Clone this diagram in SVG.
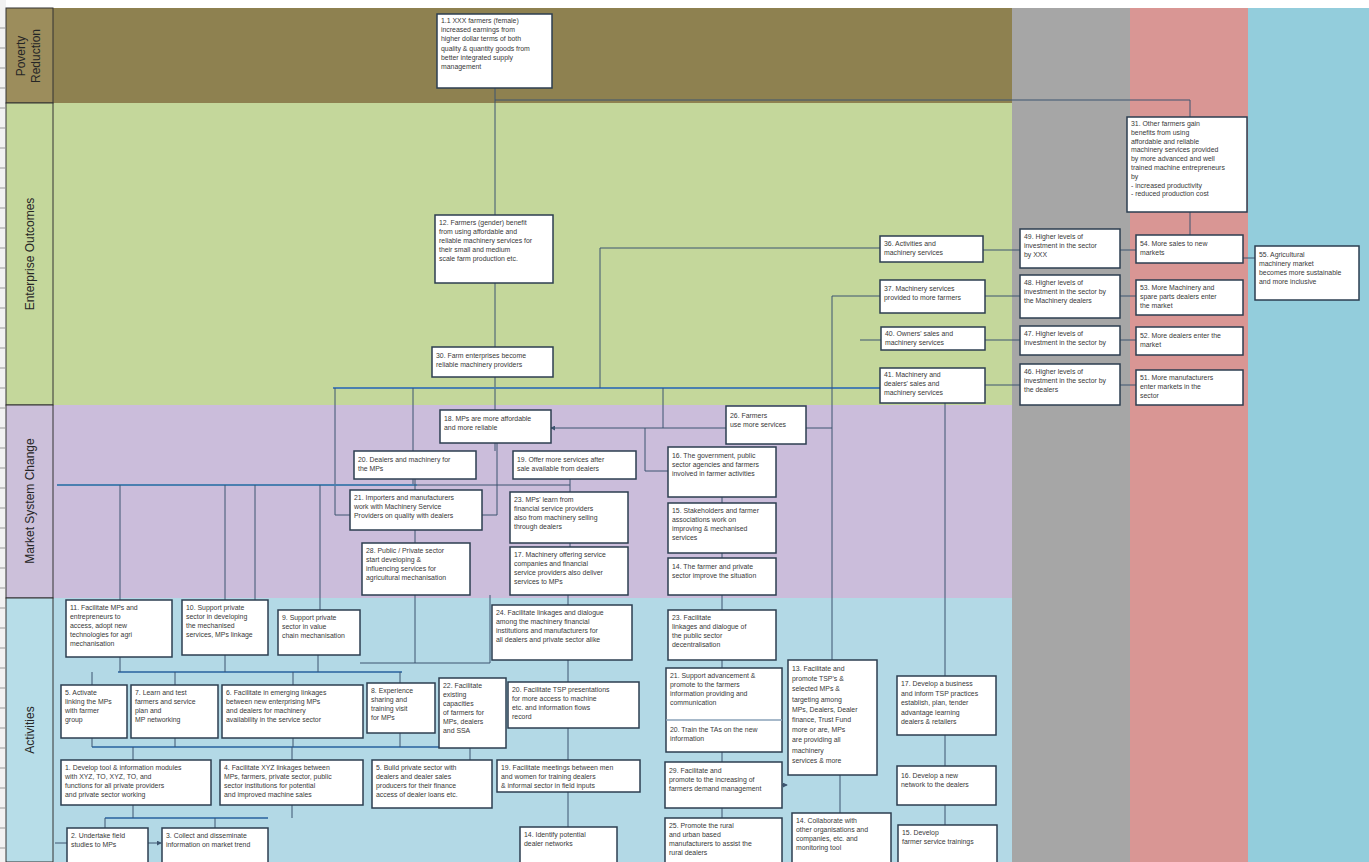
<svg xmlns="http://www.w3.org/2000/svg" width="1369" height="862" viewBox="0 0 1369 862">
<style>
.nb{fill:#ffffff;stroke:#2c3e50;stroke-width:1.5}
.t{font-family:"Liberation Sans",Arial,sans-serif;font-size:6.9px;fill:#383838}
.lab{font-family:"Liberation Sans",Arial,sans-serif;font-size:12px;fill:#262626;text-anchor:middle}
.c{fill:none;stroke:#3d5570;stroke-width:1}
.cb{fill:none;stroke:#4a7fb0;stroke-width:2}
.tick{stroke:#9a9a9a;stroke-width:1}
</style>
<defs>
<marker id="ah" viewBox="0 0 6 6" refX="5" refY="3" markerWidth="5" markerHeight="5" orient="auto"><path d="M0,0 L6,3 L0,6 z" fill="#3d5570"/></marker>
</defs>
<rect x="0" y="0" width="1369" height="862" fill="#ffffff"/>
<g id="bands">
<rect x="53" y="8" width="959" height="95" fill="#8e8150"/>
<rect x="53" y="103" width="959" height="302" fill="#c4d79b"/>
<rect x="53" y="405" width="959" height="193" fill="#cbbddb"/>
<rect x="53" y="598" width="959" height="264" fill="#b3d9e6"/>
<rect x="1012" y="8" width="118" height="854" fill="#a6a6a6"/>
<rect x="1130" y="8" width="118" height="854" fill="#d99694"/>
<rect x="1248" y="8" width="121" height="854" fill="#93cddc"/>
</g>
<g id="labels">
<rect x="0" y="0" width="6" height="862" fill="#f2f2f2"/>
<g class="tick">
<line x1="0" y1="28" x2="5" y2="28"/><line x1="0" y1="48" x2="5" y2="48"/><line x1="0" y1="68" x2="5" y2="68"/><line x1="0" y1="88" x2="5" y2="88"/><line x1="0" y1="108" x2="5" y2="108"/><line x1="0" y1="128" x2="5" y2="128"/><line x1="0" y1="148" x2="5" y2="148"/><line x1="0" y1="168" x2="5" y2="168"/><line x1="0" y1="188" x2="5" y2="188"/><line x1="0" y1="208" x2="5" y2="208"/><line x1="0" y1="228" x2="5" y2="228"/><line x1="0" y1="248" x2="5" y2="248"/><line x1="0" y1="268" x2="5" y2="268"/><line x1="0" y1="288" x2="5" y2="288"/><line x1="0" y1="308" x2="5" y2="308"/><line x1="0" y1="328" x2="5" y2="328"/><line x1="0" y1="348" x2="5" y2="348"/><line x1="0" y1="368" x2="5" y2="368"/><line x1="0" y1="388" x2="5" y2="388"/><line x1="0" y1="408" x2="5" y2="408"/><line x1="0" y1="428" x2="5" y2="428"/><line x1="0" y1="448" x2="5" y2="448"/><line x1="0" y1="468" x2="5" y2="468"/><line x1="0" y1="488" x2="5" y2="488"/><line x1="0" y1="508" x2="5" y2="508"/><line x1="0" y1="528" x2="5" y2="528"/><line x1="0" y1="548" x2="5" y2="548"/><line x1="0" y1="568" x2="5" y2="568"/><line x1="0" y1="588" x2="5" y2="588"/><line x1="0" y1="608" x2="5" y2="608"/><line x1="0" y1="628" x2="5" y2="628"/><line x1="0" y1="648" x2="5" y2="648"/><line x1="0" y1="668" x2="5" y2="668"/><line x1="0" y1="688" x2="5" y2="688"/><line x1="0" y1="708" x2="5" y2="708"/><line x1="0" y1="728" x2="5" y2="728"/><line x1="0" y1="748" x2="5" y2="748"/><line x1="0" y1="768" x2="5" y2="768"/><line x1="0" y1="788" x2="5" y2="788"/><line x1="0" y1="808" x2="5" y2="808"/><line x1="0" y1="828" x2="5" y2="828"/><line x1="0" y1="848" x2="5" y2="848"/>
</g>
<rect x="6" y="8" width="47" height="95" fill="#9c8d5c" stroke="#333" stroke-width="1"/>
<rect x="6" y="103" width="47" height="302" fill="#c4d79b" stroke="#333" stroke-width="1"/>
<rect x="6" y="405" width="47" height="193" fill="#ccc0da" stroke="#333" stroke-width="1"/>
<rect x="6" y="598" width="47" height="264" fill="#b7dde8" stroke="#333" stroke-width="1"/>
<text class="lab" transform="translate(25,56) rotate(-90)">Poverty</text>
<text class="lab" transform="translate(40,56) rotate(-90)">Reduction</text>
<text class="lab" transform="translate(34,254) rotate(-90)">Enterprise Outcomes</text>
<text class="lab" transform="translate(34,501) rotate(-90)">Market System Change</text>
<text class="lab" transform="translate(34,730) rotate(-90)">Activities</text>
</g>
<g id="connectors">
<path class="c" d="M495,88 V215"/>
<path class="c" d="M495,100 H1190 V117"/>
<path class="c" d="M1190,212 V235"/>
<path class="c" d="M495,283 V347"/>
<path class="c" d="M495,377 V410"/>
<path class="cb" d="M333,388 H880"/>
<path class="c" d="M335,388 V515 H350"/>
<path class="c" d="M600,248 H880"/>
<path class="c" d="M600,248 V388"/>
<path class="c" d="M832,296 H880"/>
<path class="c" d="M860,340 H881"/>
<path class="c" d="M832,296 V660"/>
<path class="c" d="M806,428 H832"/>
<path class="c" d="M983,250 H1020"/><path class="c" d="M985,296 H1020"/><path class="c" d="M985,340 H1020"/><path class="c" d="M985,385 H1020"/>
<path class="c" d="M1120,250 H1136"/><path class="c" d="M1120,296 H1136"/><path class="c" d="M1120,340 H1136"/><path class="c" d="M1120,385 H1136"/>
<path class="c" d="M1243,258 H1255"/>
<path class="c" d="M726,428 H551" marker-end="url(#ah)"/>
<path class="c" d="M663,388 V428"/>
<path class="c" d="M645,428 V471 H668"/>
<path class="c" d="M495,443 V451"/>
<path class="c" d="M413,388 V485"/>
<path class="c" d="M497,443 V515 H482"/>
<path class="cb" d="M57,485 H417"/>
<path class="c" d="M417,485 H570"/>
<path class="c" d="M415,479 V490"/>
<path class="c" d="M570,479 V492"/>
<path class="c" d="M120,485 V600"/><path class="c" d="M225,485 V600"/><path class="c" d="M255,485 V600"/><path class="c" d="M320,485 V610"/>
<path class="c" d="M415,530 V543"/><path class="c" d="M570,543 V547"/>
<path class="c" d="M722,497 V503"/><path class="c" d="M722,553 V558"/><path class="c" d="M722,595 V610"/>
<path class="c" d="M415,595 V663"/><path class="c" d="M490,595 V663"/><path class="c" d="M360,663 H490"/><path class="c" d="M568,595 V605"/>
<path class="c" d="M945,403 V676"/>
<path class="cb" d="M118,672 H402"/>
<path class="c" d="M120,657 V672"/><path class="c" d="M225,655 V672"/><path class="c" d="M318,655 V672"/>
<path class="c" d="M92,672 V685"/><path class="c" d="M175,672 V685"/><path class="c" d="M293,672 V685"/><path class="c" d="M400,672 V683"/>
<path class="cb" d="M92,747 H472"/>
<path class="c" d="M92,738 V747"/><path class="c" d="M175,738 V747"/><path class="c" d="M293,738 V747"/><path class="c" d="M400,733 V747"/><path class="c" d="M470,748 V760"/>
<path class="c" d="M133,747 V760"/><path class="c" d="M292,747 V760"/>
<path class="cb" d="M105,818 H268"/>
<path class="c" d="M133,805 V818"/><path class="c" d="M292,805 V818"/><path class="c" d="M105,818 V828"/><path class="c" d="M215,818 V828"/>
<path class="c" d="M148,843 H161" marker-end="url(#ah)"/>
<path class="c" d="M55,843 H67"/>
<path class="c" d="M568,660 V682"/><path class="c" d="M568,728 V760"/><path class="c" d="M568,792 V827"/>
<path class="c" d="M722,660 V668"/><path class="c" d="M722,752 V762"/><path class="c" d="M722,808 V818"/>
<path class="c" d="M782,785 H787" marker-end="url(#ah)"/>
<path class="c" d="M840,775 V813"/>
<path class="c" d="M945,735 V766"/><path class="c" d="M945,805 V825"/>
</g>
<g id="n_pr1"><rect class="nb" x="437" y="14" width="115" height="74"/><text class="t" x="441" y="23"><tspan x="441" dy="0">1.1 XXX farmers (female)</tspan><tspan x="441" dy="9.2">increased earnings from</tspan><tspan x="441" dy="9.2">higher dollar terms of both</tspan><tspan x="441" dy="9.2">quality &amp; quantity goods from</tspan><tspan x="441" dy="9.2">better integrated supply</tspan><tspan x="441" dy="9.2">management</tspan></text></g>
<g id="n_eo12"><rect class="nb" x="435" y="215" width="118" height="68"/><text class="t" x="439" y="225"><tspan x="439" dy="0">12. Farmers (gender) benefit</tspan><tspan x="439" dy="9">from using affordable and</tspan><tspan x="439" dy="9">reliable machinery services for</tspan><tspan x="439" dy="9">their small and medium</tspan><tspan x="439" dy="9">scale farm production etc.</tspan></text></g>
<g id="n_eo30"><rect class="nb" x="432" y="347" width="121" height="30"/><text class="t" x="436" y="358"><tspan x="436" dy="0">30. Farm enterprises become</tspan><tspan x="436" dy="9">reliable machinery providers</tspan></text></g>
<g id="n_eo31"><rect class="nb" x="1127" y="117" width="120" height="95"/><text class="t" x="1131" y="126"><tspan x="1131" dy="0">31. Other farmers gain</tspan><tspan x="1131" dy="8.8">benefits from using</tspan><tspan x="1131" dy="8.8">affordable and reliable</tspan><tspan x="1131" dy="8.8">machinery services provided</tspan><tspan x="1131" dy="8.8">by more advanced and well</tspan><tspan x="1131" dy="8.8">trained machine entrepreneurs</tspan><tspan x="1131" dy="8.8">by</tspan><tspan x="1131" dy="8.8">- increased productivity</tspan><tspan x="1131" dy="8.8">- reduced production cost</tspan></text></g>
<g id="n_eo36"><rect class="nb" x="880" y="236" width="103" height="26"/><text class="t" x="884" y="246"><tspan x="884" dy="0">36. Activities and</tspan><tspan x="884" dy="9">machinery services</tspan></text></g>
<g id="n_eo37"><rect class="nb" x="880" y="280" width="105" height="33"/><text class="t" x="884" y="291"><tspan x="884" dy="0">37. Machinery services</tspan><tspan x="884" dy="9">provided to more farmers</tspan></text></g>
<g id="n_eo40"><rect class="nb" x="881" y="327" width="104" height="23"/><text class="t" x="885" y="336"><tspan x="885" dy="0">40. Owners' sales and</tspan><tspan x="885" dy="9">machinery services</tspan></text></g>
<g id="n_eo41"><rect class="nb" x="880" y="368" width="105" height="35"/><text class="t" x="884" y="377"><tspan x="884" dy="0">41. Machinery and</tspan><tspan x="884" dy="9">dealers' sales and</tspan><tspan x="884" dy="9">machinery services</tspan></text></g>
<g id="n_g49"><rect class="nb" x="1020" y="229" width="100" height="39"/><text class="t" x="1024" y="239"><tspan x="1024" dy="0">49. Higher levels of</tspan><tspan x="1024" dy="9">investment in the sector</tspan><tspan x="1024" dy="9">by XXX</tspan></text></g>
<g id="n_g48"><rect class="nb" x="1020" y="275" width="100" height="43"/><text class="t" x="1024" y="285"><tspan x="1024" dy="0">48. Higher levels of</tspan><tspan x="1024" dy="9">investment in the sector by</tspan><tspan x="1024" dy="9">the Machinery dealers</tspan></text></g>
<g id="n_g47"><rect class="nb" x="1020" y="326" width="100" height="29"/><text class="t" x="1024" y="336"><tspan x="1024" dy="0">47. Higher levels of</tspan><tspan x="1024" dy="9">investment in the sector by</tspan></text></g>
<g id="n_g46"><rect class="nb" x="1020" y="364" width="100" height="41"/><text class="t" x="1024" y="374"><tspan x="1024" dy="0">46. Higher levels of</tspan><tspan x="1024" dy="9">investment in the sector by</tspan><tspan x="1024" dy="9">the dealers</tspan></text></g>
<g id="n_p54"><rect class="nb" x="1136" y="235" width="107" height="28"/><text class="t" x="1140" y="246"><tspan x="1140" dy="0">54. More sales to new</tspan><tspan x="1140" dy="9">markets</tspan></text></g>
<g id="n_p53"><rect class="nb" x="1136" y="280" width="107" height="35"/><text class="t" x="1140" y="290"><tspan x="1140" dy="0">53. More Machinery and</tspan><tspan x="1140" dy="9">spare parts dealers enter</tspan><tspan x="1140" dy="9">the market</tspan></text></g>
<g id="n_p52"><rect class="nb" x="1136" y="327" width="107" height="28"/><text class="t" x="1140" y="338"><tspan x="1140" dy="0">52. More dealers enter the</tspan><tspan x="1140" dy="9">market</tspan></text></g>
<g id="n_p51"><rect class="nb" x="1136" y="370" width="107" height="35"/><text class="t" x="1140" y="380"><tspan x="1140" dy="0">51. More manufacturers</tspan><tspan x="1140" dy="9">enter markets in the</tspan><tspan x="1140" dy="9">sector</tspan></text></g>
<g id="n_b55"><rect class="nb" x="1255" y="246" width="104" height="54"/><text class="t" x="1259" y="257"><tspan x="1259" dy="0">55. Agricultural</tspan><tspan x="1259" dy="9">machinery market</tspan><tspan x="1259" dy="9">becomes more sustainable</tspan><tspan x="1259" dy="9">and more inclusive</tspan></text></g>
<g id="n_m18"><rect class="nb" x="440" y="410" width="111" height="33"/><text class="t" x="444" y="421"><tspan x="444" dy="0">18. MPs are more affordable</tspan><tspan x="444" dy="9">and more reliable</tspan></text></g>
<g id="n_m20"><rect class="nb" x="354" y="451" width="122" height="28"/><text class="t" x="358" y="462"><tspan x="358" dy="0">20. Dealers and machinery for</tspan><tspan x="358" dy="9">the MPs</tspan></text></g>
<g id="n_m19"><rect class="nb" x="513" y="451" width="123" height="28"/><text class="t" x="517" y="462"><tspan x="517" dy="0">19. Offer more services after</tspan><tspan x="517" dy="9">sale available from dealers</tspan></text></g>
<g id="n_m21"><rect class="nb" x="350" y="490" width="132" height="40"/><text class="t" x="354" y="500"><tspan x="354" dy="0">21. Importers and manufacturers</tspan><tspan x="354" dy="9">work with Machinery Service</tspan><tspan x="354" dy="9">Providers on quality with dealers</tspan></text></g>
<g id="n_m23"><rect class="nb" x="510" y="492" width="118" height="51"/><text class="t" x="514" y="502"><tspan x="514" dy="0">23. MPs' learn from</tspan><tspan x="514" dy="9">financial service providers</tspan><tspan x="514" dy="9">also from machinery selling</tspan><tspan x="514" dy="9">through dealers</tspan></text></g>
<g id="n_m28"><rect class="nb" x="362" y="543" width="108" height="52"/><text class="t" x="366" y="553"><tspan x="366" dy="0">28. Public / Private sector</tspan><tspan x="366" dy="9">start developing &amp;</tspan><tspan x="366" dy="9">influencing services for</tspan><tspan x="366" dy="9">agricultural mechanisation</tspan></text></g>
<g id="n_m17"><rect class="nb" x="510" y="547" width="118" height="48"/><text class="t" x="514" y="557"><tspan x="514" dy="0">17. Machinery offering service</tspan><tspan x="514" dy="9">companies and financial</tspan><tspan x="514" dy="9">service providers also deliver</tspan><tspan x="514" dy="9">services to MPs</tspan></text></g>
<g id="n_m26"><rect class="nb" x="726" y="406" width="80" height="38"/><text class="t" x="730" y="418"><tspan x="730" dy="0">26. Farmers</tspan><tspan x="730" dy="9">use more services</tspan></text></g>
<g id="n_m16"><rect class="nb" x="668" y="447" width="108" height="50"/><text class="t" x="672" y="458"><tspan x="672" dy="0">16. The government, public</tspan><tspan x="672" dy="9">sector agencies and farmers</tspan><tspan x="672" dy="9">involved in farmer activities</tspan></text></g>
<g id="n_m15"><rect class="nb" x="668" y="503" width="108" height="50"/><text class="t" x="672" y="513"><tspan x="672" dy="0">15. Stakeholders and farmer</tspan><tspan x="672" dy="9">associations work on</tspan><tspan x="672" dy="9">improving &amp; mechanised</tspan><tspan x="672" dy="9">services</tspan></text></g>
<g id="n_m14"><rect class="nb" x="668" y="558" width="108" height="37"/><text class="t" x="672" y="569"><tspan x="672" dy="0">14. The farmer and private</tspan><tspan x="672" dy="9">sector improve the situation</tspan></text></g>
<g id="n_a11"><rect class="nb" x="66" y="600" width="106" height="57"/><text class="t" x="70" y="610"><tspan x="70" dy="0">11. Facilitate MPs and</tspan><tspan x="70" dy="9">entrepreneurs to</tspan><tspan x="70" dy="9">access, adopt new</tspan><tspan x="70" dy="9">technologies for agri</tspan><tspan x="70" dy="9">mechanisation</tspan></text></g>
<g id="n_a10"><rect class="nb" x="182" y="600" width="86" height="55"/><text class="t" x="186" y="610"><tspan x="186" dy="0">10. Support private</tspan><tspan x="186" dy="9">sector in developing</tspan><tspan x="186" dy="9">the mechanised</tspan><tspan x="186" dy="9">services, MPs linkage</tspan></text></g>
<g id="n_a9"><rect class="nb" x="278" y="610" width="82" height="45"/><text class="t" x="282" y="620"><tspan x="282" dy="0">9. Support private</tspan><tspan x="282" dy="9">sector in value</tspan><tspan x="282" dy="9">chain mechanisation</tspan></text></g>
<g id="n_a24"><rect class="nb" x="492" y="605" width="140" height="55"/><text class="t" x="496" y="615"><tspan x="496" dy="0">24. Facilitate linkages and dialogue</tspan><tspan x="496" dy="9">among the machinery financial</tspan><tspan x="496" dy="9">institutions and manufacturers for</tspan><tspan x="496" dy="9">all dealers and private sector alike</tspan></text></g>
<g id="n_a23"><rect class="nb" x="668" y="610" width="108" height="50"/><text class="t" x="672" y="620"><tspan x="672" dy="0">23. Facilitate</tspan><tspan x="672" dy="9">linkages and dialogue of</tspan><tspan x="672" dy="9">the public sector</tspan><tspan x="672" dy="9">decentralisation</tspan></text></g>
<g id="n_a5"><rect class="nb" x="61" y="685" width="66" height="53"/><text class="t" x="65" y="695"><tspan x="65" dy="0">5. Activate</tspan><tspan x="65" dy="9">linking the MPs</tspan><tspan x="65" dy="9">with farmer</tspan><tspan x="65" dy="9">group</tspan></text></g>
<g id="n_a7"><rect class="nb" x="131" y="685" width="87" height="53"/><text class="t" x="135" y="695"><tspan x="135" dy="0">7. Learn and test</tspan><tspan x="135" dy="9">farmers and service</tspan><tspan x="135" dy="9">plan and</tspan><tspan x="135" dy="9">MP networking</tspan></text></g>
<g id="n_a6"><rect class="nb" x="222" y="685" width="141" height="53"/><text class="t" x="226" y="695"><tspan x="226" dy="0">6. Facilitate in emerging linkages</tspan><tspan x="226" dy="9">between new enterprising MPs</tspan><tspan x="226" dy="9">and dealers for machinery</tspan><tspan x="226" dy="9">availability in the service sector</tspan></text></g>
<g id="n_a8"><rect class="nb" x="367" y="683" width="68" height="50"/><text class="t" x="371" y="693"><tspan x="371" dy="0">8. Experience</tspan><tspan x="371" dy="9">sharing and</tspan><tspan x="371" dy="9">training visit</tspan><tspan x="371" dy="9">for MPs</tspan></text></g>
<g id="n_a22"><rect class="nb" x="439" y="678" width="67" height="70"/><text class="t" x="443" y="688"><tspan x="443" dy="0">22. Facilitate</tspan><tspan x="443" dy="9">existing</tspan><tspan x="443" dy="9">capacities</tspan><tspan x="443" dy="9">of farmers for</tspan><tspan x="443" dy="9">MPs, dealers</tspan><tspan x="443" dy="9">and SSA</tspan></text></g>
<g id="n_a20"><rect class="nb" x="508" y="682" width="131" height="46"/><text class="t" x="512" y="692"><tspan x="512" dy="0">20. Facilitate TSP presentations</tspan><tspan x="512" dy="9">for more access to machine</tspan><tspan x="512" dy="9">etc. and information flows</tspan><tspan x="512" dy="9">record</tspan></text></g>
<g id="n_a21"><rect class="nb" x="666" y="668" width="116" height="84"/><text class="t" x="670" y="678"><tspan x="670" dy="0">21. Support advancement &amp;</tspan><tspan x="670" dy="9">promote to the farmers</tspan><tspan x="670" dy="9">information providing and</tspan><tspan x="670" dy="9">communication</tspan></text><line x1="666" y1="720" x2="782" y2="720" stroke="#8aa2b8" stroke-width="1.5"/><text class="t" x="670" y="732"><tspan x="670" dy="0">20. Train the TAs on the new</tspan><tspan x="670" dy="9">information</tspan></text></g>
<g id="n_a13"><rect class="nb" x="788" y="660" width="89" height="115"/><text class="t" x="792" y="671"><tspan x="792" dy="0">13. Facilitate and</tspan><tspan x="792" dy="10.2">promote TSP's &amp;</tspan><tspan x="792" dy="10.2">selected MPs &amp;</tspan><tspan x="792" dy="10.2">targeting among</tspan><tspan x="792" dy="10.2">MPs, Dealers, Dealer</tspan><tspan x="792" dy="10.2">finance, Trust Fund</tspan><tspan x="792" dy="10.2">more or are, MPs</tspan><tspan x="792" dy="10.2">are providing all</tspan><tspan x="792" dy="10.2">machinery</tspan><tspan x="792" dy="10.2">services &amp; more</tspan></text></g>
<g id="n_a17"><rect class="nb" x="897" y="676" width="99" height="59"/><text class="t" x="901" y="686"><tspan x="901" dy="0">17. Develop a business</tspan><tspan x="901" dy="9.5">and inform TSP practices</tspan><tspan x="901" dy="9.5">establish, plan, tender</tspan><tspan x="901" dy="9.5">advantage learning</tspan><tspan x="901" dy="9.5">dealers &amp; retailers</tspan></text></g>
<g id="n_a1"><rect class="nb" x="61" y="760" width="150" height="45"/><text class="t" x="65" y="770"><tspan x="65" dy="0">1. Develop tool &amp; information modules</tspan><tspan x="65" dy="9">with XYZ, TO, XYZ, TO, and</tspan><tspan x="65" dy="9">functions for all private providers</tspan><tspan x="65" dy="9">and private sector working</tspan></text></g>
<g id="n_a4"><rect class="nb" x="220" y="760" width="143" height="45"/><text class="t" x="224" y="770"><tspan x="224" dy="0">4. Facilitate XYZ linkages between</tspan><tspan x="224" dy="9">MPs, farmers, private sector, public</tspan><tspan x="224" dy="9">sector institutions for potential</tspan><tspan x="224" dy="9">and improved machine sales</tspan></text></g>
<g id="n_a3b"><rect class="nb" x="372" y="760" width="120" height="48"/><text class="t" x="376" y="770"><tspan x="376" dy="0">5. Build private sector with</tspan><tspan x="376" dy="9">dealers and dealer sales</tspan><tspan x="376" dy="9">producers for their finance</tspan><tspan x="376" dy="9">access of dealer loans etc.</tspan></text></g>
<g id="n_a19"><rect class="nb" x="497" y="760" width="143" height="32"/><text class="t" x="501" y="770"><tspan x="501" dy="0">19. Facilitate meetings between men</tspan><tspan x="501" dy="9">and women for training dealers</tspan><tspan x="501" dy="9">&amp; informal sector in field inputs</tspan></text></g>
<g id="n_a29"><rect class="nb" x="665" y="762" width="117" height="46"/><text class="t" x="669" y="773"><tspan x="669" dy="0">29. Facilitate and</tspan><tspan x="669" dy="9">promote to the increasing of</tspan><tspan x="669" dy="9">farmers demand management</tspan></text></g>
<g id="n_a16"><rect class="nb" x="897" y="766" width="99" height="39"/><text class="t" x="901" y="778"><tspan x="901" dy="0">16. Develop a new</tspan><tspan x="901" dy="9">network to the dealers</tspan></text></g>
<g id="n_a2"><rect class="nb" x="67" y="828" width="81" height="40"/><text class="t" x="71" y="838"><tspan x="71" dy="0">2. Undertake field</tspan><tspan x="71" dy="9">studies to MPs</tspan></text></g>
<g id="n_a3"><rect class="nb" x="162" y="828" width="106" height="40"/><text class="t" x="166" y="838"><tspan x="166" dy="0">3. Collect and disseminate</tspan><tspan x="166" dy="9">information on market trend</tspan></text></g>
<g id="n_a14"><rect class="nb" x="520" y="827" width="97" height="40"/><text class="t" x="524" y="837"><tspan x="524" dy="0">14. Identify potential</tspan><tspan x="524" dy="9">dealer networks</tspan></text></g>
<g id="n_a25"><rect class="nb" x="665" y="818" width="117" height="50"/><text class="t" x="669" y="828"><tspan x="669" dy="0">25. Promote the rural</tspan><tspan x="669" dy="9">and urban based</tspan><tspan x="669" dy="9">manufacturers to assist the</tspan><tspan x="669" dy="9">rural dealers</tspan></text></g>
<g id="n_a14b"><rect class="nb" x="792" y="813" width="99" height="55"/><text class="t" x="796" y="823"><tspan x="796" dy="0">14. Collaborate with</tspan><tspan x="796" dy="9">other organisations and</tspan><tspan x="796" dy="9">companies, etc. and</tspan><tspan x="796" dy="9">monitoring tool</tspan></text></g>
<g id="n_a15"><rect class="nb" x="898" y="825" width="99" height="43"/><text class="t" x="902" y="835"><tspan x="902" dy="0">15. Develop</tspan><tspan x="902" dy="9">farmer service trainings</tspan></text></g>
</svg>
